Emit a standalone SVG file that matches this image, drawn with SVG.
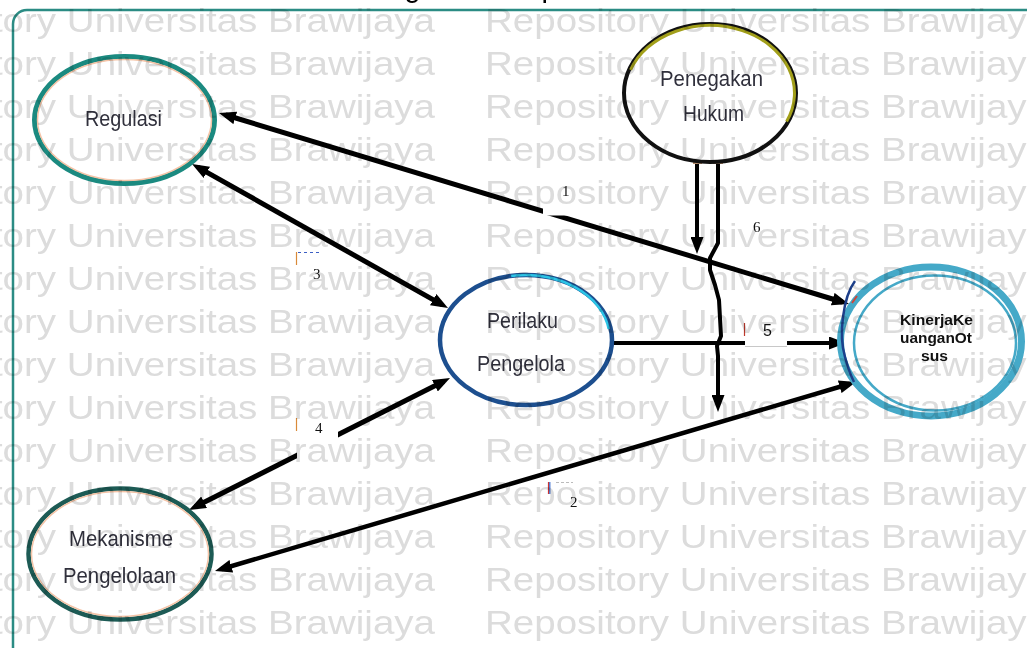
<svg xmlns="http://www.w3.org/2000/svg" width="1027" height="648" viewBox="0 0 1027 648">
  <defs>
    <style>
      .lbl { font-family: "Liberation Sans", Arial, sans-serif; font-size: 22px; fill: #30303c; }
      .lblb { font-family: "Liberation Sans", Arial, sans-serif; font-size: 15px; font-weight: bold; fill: #111; }
      .num { font-family: "Liberation Serif", "Times New Roman", serif; font-size: 15px; fill: #111; }
      .nums { font-family: "Liberation Sans", Arial, sans-serif; font-size: 16px; fill: #111; }
      .wm { font-family: "Liberation Sans", Arial, sans-serif; font-size: 34px; fill: #dcdcdc; }
      .conn { fill: none; stroke: #000; stroke-linejoin: round; }
      .box { fill: #fff; stroke: none; }
    </style>
    <marker id="arrow" viewBox="0 0 17 13" refX="10" refY="6.5" markerWidth="17" markerHeight="13" markerUnits="userSpaceOnUse" orient="auto-start-reverse">
      <path d="M0,0 L17,6.5 L0,13 z" fill="#000"/>
    </marker>
    <g id="wmrow">
      <text class="wm" x="-128" y="0" textLength="563" lengthAdjust="spacingAndGlyphs">Repository Universitas Brawijaya</text>
      <text class="wm" x="485" y="0" textLength="563" lengthAdjust="spacingAndGlyphs">Repository Universitas Brawijaya</text>
    </g>
  </defs>

  <rect width="1027" height="648" fill="#fff"/>

  <!-- heading, mostly above the top edge -->
  <text x="327" y="-3" font-family="Liberation Sans, Arial, sans-serif" font-size="29" fill="#000">Kerangka Konsep</text>

  <!-- outer frame -->
  <rect x="13" y="10" width="1100" height="700" rx="14" fill="none" stroke="#2b8c84" stroke-width="2.5"/>

  <!-- connectors -->
  <g id="connectors">
    <!-- 1: Regulasi - Kinerja -->
    <line class="conn" x1="225.7" y1="115" x2="842.3" y2="302" stroke-width="5" marker-start="url(#arrow)" marker-end="url(#arrow)"/>
    <!-- 2: Mekanisme - Kinerja -->
    <line class="conn" x1="221.7" y1="569" x2="849.3" y2="384" stroke-width="4.5" marker-start="url(#arrow)" marker-end="url(#arrow)"/>
    <!-- 3: Regulasi - Perilaku -->
    <line class="conn" x1="198.1" y1="167.4" x2="441.9" y2="304.6" stroke-width="5" marker-start="url(#arrow)" marker-end="url(#arrow)"/>
    <!-- 4: Mekanisme - Perilaku -->
    <line class="conn" x1="195.2" y1="506.8" x2="443.8" y2="381.2" stroke-width="5" marker-start="url(#arrow)" marker-end="url(#arrow)"/>
    <!-- 5: Perilaku - Kinerja -->
    <line class="conn" x1="614" y1="343" x2="839" y2="343" stroke-width="4" marker-end="url(#arrow)"/>
    <!-- 6: Penegakan Hukum moderating links -->
    <line class="conn" x1="697" y1="163" x2="697" y2="247" stroke-width="4" marker-end="url(#arrow)"/>
    <polyline class="conn" points="718,163 718,243 710,258 710,270 715,285 719,300 721,336 717,346 718,356 718,405" stroke-width="4" marker-end="url(#arrow)"/>
    <rect x="693" y="160" width="9" height="4" fill="#b38a6a"/>
    <rect x="713" y="160" width="10" height="4" fill="#b38a6a"/>
  </g>

  <!-- path labels -->
  <g id="labels">
    <rect class="box" x="543" y="180" width="47" height="35.5"/>
    <text class="num" x="562" y="196">1</text>

    <rect class="box" x="548" y="483" width="44" height="28"/>
    <line x1="548.5" y1="482" x2="548.5" y2="494" stroke="#c33" stroke-width="1.2"/>
    <line x1="549.8" y1="482" x2="549.8" y2="494" stroke="#36c" stroke-width="1.2"/>
    <line x1="556" y1="482.5" x2="573" y2="482.5" stroke="#bbb" stroke-width="1" stroke-dasharray="3,2"/>
    <text class="num" x="570" y="507">2</text>

    <rect class="box" x="297" y="252" width="40" height="38"/>
    <line x1="296.5" y1="252" x2="296.5" y2="265" stroke="#d98a3a" stroke-width="1.2"/>
    <line x1="298" y1="252.5" x2="322" y2="252.5" stroke="#3b5fc4" stroke-width="1" stroke-dasharray="3,3"/>
    <text class="num" x="313" y="279">3</text>

    <rect class="box" x="297" y="415" width="41" height="45"/>
    <line x1="296.5" y1="418" x2="296.5" y2="431" stroke="#d98a3a" stroke-width="1.2"/>
    <text class="num" x="315" y="433">4</text>

    <rect class="box" x="745" y="322" width="42" height="24.5"/>
    <line x1="745" y1="346.5" x2="787" y2="346.5" stroke="#c8c8c8" stroke-width="1"/>
    <line x1="744.5" y1="323" x2="744.5" y2="336" stroke="#c0392b" stroke-width="1.2"/>
    <text class="nums" x="763" y="336">5</text>

    <text class="num" x="753" y="232">6</text>
  </g>

  <!-- Regulasi -->
  <g id="node-regulasi">
    <ellipse cx="124.5" cy="120" rx="90" ry="63.5" fill="#fff" stroke="#1b8a80" stroke-width="5"/>
    <ellipse cx="124.5" cy="120" rx="87" ry="60.5" fill="none" stroke="#f4c3a6" stroke-width="1.5"/>
    <text class="lbl" x="85" y="126" textLength="77" lengthAdjust="spacingAndGlyphs">Regulasi</text>
  </g>

  <!-- Penegakan Hukum -->
  <g id="node-penegakan">
    <ellipse cx="710" cy="93" rx="86" ry="69" fill="#fff" stroke="#111" stroke-width="4"/>
    <path d="M 630.6 69.9 A 84.5 67.5 0 1 1 786.6 121.5" fill="none" stroke="#a29f1a" stroke-width="3"/>
    <text class="lbl" x="660" y="86" textLength="103" lengthAdjust="spacingAndGlyphs">Penegakan</text>
    <text class="lbl" x="683" y="121" textLength="61" lengthAdjust="spacingAndGlyphs">Hukum</text>
  </g>

  <!-- Perilaku Pengelola -->
  <g id="node-perilaku">
    <ellipse cx="526" cy="340" rx="86" ry="65" fill="#fff" stroke="#1d4f8f" stroke-width="4.5"/>
    <path d="M 511.2 276.1 A 84 63 0 0 1 608.7 329.1" fill="none" stroke="#2cc4e6" stroke-width="2.5"/>
    <text class="lbl" x="487" y="328" textLength="71" lengthAdjust="spacingAndGlyphs">Perilaku</text>
    <text class="lbl" x="477" y="371" textLength="88" lengthAdjust="spacingAndGlyphs">Pengelola</text>
  </g>

  <!-- Mekanisme Pengelolaan -->
  <g id="node-mekanisme">
    <ellipse cx="120" cy="554" rx="91.5" ry="65.5" fill="#fff" stroke="#1d5b55" stroke-width="4.5"/>
    <ellipse cx="120" cy="554" rx="88.5" ry="62.5" fill="none" stroke="#f4c3a6" stroke-width="1.5"/>
    <text class="lbl" x="69" y="546" textLength="104" lengthAdjust="spacingAndGlyphs">Mekanisme</text>
    <text class="lbl" x="63" y="583" textLength="113" lengthAdjust="spacingAndGlyphs">Pengelolaan</text>
  </g>

  <!-- Kinerja Keuangan Otsus -->
  <g id="node-kinerja">
    <ellipse cx="931" cy="341.5" rx="90.5" ry="74.5" fill="#fff" stroke="#45a9c8" stroke-width="7"/>
    <ellipse cx="935" cy="343" rx="81" ry="67.5" fill="none" stroke="#45a9c8" stroke-width="2.5"/>
    <path d="M 855 281 Q 846 293 843 317 Q 840 340 845 357 Q 849 372 854 382" fill="none" stroke="#1d3f8a" stroke-width="2.5"/>
    <path d="M 852 303 L 857 296" fill="none" stroke="#d0453a" stroke-width="2"/>
    <text class="lblb" x="900" y="325" textLength="73" lengthAdjust="spacingAndGlyphs">KinerjaKe</text>
    <text class="lblb" x="900" y="343" textLength="72" lengthAdjust="spacingAndGlyphs">uanganOt</text>
    <text class="lblb" x="921" y="361" textLength="27" lengthAdjust="spacingAndGlyphs">sus</text>
  </g>

  <!-- repository watermark, multiplied over the drawing -->
  <g id="watermark" style="mix-blend-mode:multiply">
    <use href="#wmrow" y="32"/>
    <use href="#wmrow" y="75"/>
    <use href="#wmrow" y="118"/>
    <use href="#wmrow" y="161"/>
    <use href="#wmrow" y="204"/>
    <use href="#wmrow" y="247"/>
    <use href="#wmrow" y="290"/>
    <use href="#wmrow" y="333"/>
    <use href="#wmrow" y="376"/>
    <use href="#wmrow" y="419"/>
    <use href="#wmrow" y="462"/>
    <use href="#wmrow" y="505"/>
    <use href="#wmrow" y="548"/>
    <use href="#wmrow" y="591"/>
    <use href="#wmrow" y="634"/>
  </g>
</svg>
